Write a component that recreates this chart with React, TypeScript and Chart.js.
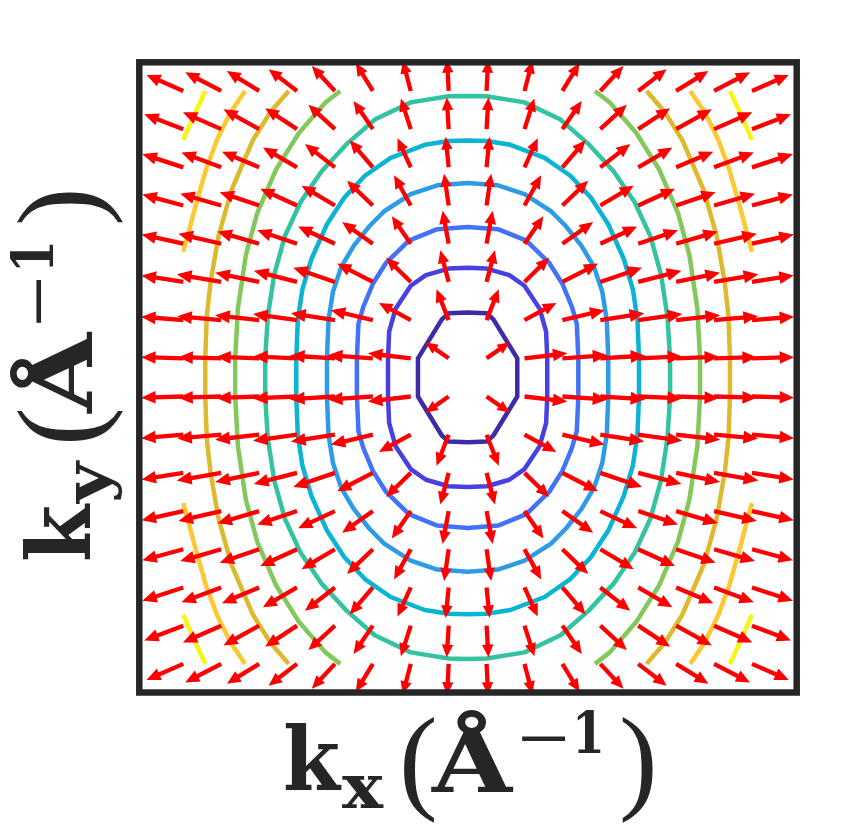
import React, { useEffect, useRef } from "react";
import { Chart, registerables } from "chart.js";

Chart.register(...registerables);

// Grid of the vector field (kx, ky), in grid units
const KX = [-7.5, -6.5, -5.5, -4.5, -3.5, -2.5, -1.5, -0.5, 0.5, 1.5, 2.5, 3.5, 4.5, 5.5, 6.5, 7.5];
const KY = [-7.5, -6.5, -5.5, -4.5, -3.5, -2.5, -1.5, -0.5, 0.5, 1.5, 2.5, 3.5, 4.5, 5.5, 6.5, 7.5];
// first-quadrant abscissae / ordinates (|kx|, |ky|)
const QX = [0.5, 1.5, 2.5, 3.5, 4.5, 5.5, 6.5, 7.5];
const QY = [0.5, 1.5, 2.5, 3.5, 4.5, 5.5, 6.5, 7.5];

// Vector components read in the first quadrant (rows: |ky| = 0.5 .. 7.5, cols: |kx| = 0.5 .. 7.5)
const U_Q = [
  [0.61, 1.13, 1.19, 1.19, 1.16, 1.13, 1.13, 1.11],
  [0.32, 0.84, 1.11, 1.16, 1.16, 1.16, 1.16, 1.11],
  [0.22, 0.65, 0.94, 1.1, 1.14, 1.16, 1.17, 1.1],
  [0.16, 0.5, 0.81, 0.97, 1.05, 1.1, 1.13, 1.1],
  [0.12, 0.44, 0.68, 0.88, 0.97, 1.04, 1.08, 1.08],
  [0.08, 0.35, 0.61, 0.79, 0.9, 0.98, 1.05, 1.08],
  [0.05, 0.26, 0.51, 0.7, 0.84, 0.94, 1.01, 1.03],
  [0.04, 0.21, 0.45, 0.61, 0.75, 0.85, 0.95, 0.97],
];
const V_Q = [
  [0.42, 0.13, 0.08, 0.07, 0.05, 0.04, 0.03, 0.03],
  [0.81, 0.45, 0.26, 0.18, 0.16, 0.13, 0.1, 0.09],
  [0.83, 0.63, 0.48, 0.37, 0.29, 0.24, 0.2, 0.17],
  [0.86, 0.72, 0.57, 0.45, 0.35, 0.32, 0.26, 0.24],
  [0.83, 0.79, 0.65, 0.52, 0.44, 0.35, 0.31, 0.29],
  [0.8, 0.76, 0.71, 0.61, 0.52, 0.41, 0.39, 0.35],
  [0.83, 0.8, 0.74, 0.64, 0.55, 0.52, 0.44, 0.39],
  [0.81, 0.79, 0.73, 0.65, 0.57, 0.52, 0.49, 0.42],
];

// Contour levels (first-quadrant vertices), innermost to outermost
const C1 = [[1.31, 0], [1.31, 0.5], [0.68, 1.52], [0.5, 1.68], [0, 1.7]];
const C2 = [[2.1, 0], [2.1, 0.5], [2.07, 1.2], [1.9, 1.8], [1.5, 2.4], [1.1, 2.68], [0.5, 2.85], [0, 2.87]];
const C3 = [[2.92, 0], [2.92, 0.5], [2.88, 1.4], [2.75, 1.85], [2.5, 2.45], [2.15, 3.0], [1.55, 3.58], [0.8, 3.88], [0, 3.94]];
const C4 = [[3.71, 0], [3.71, 0.5], [3.67, 1.5], [3.55, 2.25], [3.33, 2.9], [3.0, 3.45], [2.6, 3.95], [2.2, 4.35], [1.5, 4.8], [0.8, 5.03], [0, 5.09]];
const C5 = [[4.52, 0], [4.52, 0.5], [4.48, 1.5], [4.36, 2.3], [4.12, 3.1], [3.71, 4.01], [3.25, 4.71], [2.71, 5.28], [2.03, 5.75], [1.13, 6.09], [0.5, 6.19], [0, 6.2]];
const C6 = [[5.34, 0], [5.34, 0.5], [5.27, 1.6], [5.1, 2.7], [4.82, 3.7], [4.4, 4.6], [3.85, 5.4], [3.2, 6.1], [2.45, 6.75], [1.5, 7.2], [0.5, 7.36], [0, 7.37]];
const C7 = [[6.13, 0], [6.13, 0.5], [6.06, 1.8], [5.85, 3.2], [5.55, 4.3], [5.05, 5.45], [4.45, 6.4], [3.75, 7.2], [3.36, 7.5]];
const C8 = [[6.92, 0], [6.92, 0.5], [6.88, 1.6], [6.78, 2.5], [6.57, 3.7], [6.23, 4.9], [5.67, 6.2], [5.2, 6.95], [4.72, 7.5]];
const C9 = [[7.5, 3.29], [7.2, 4.4], [6.9, 5.45], [6.6, 6.25], [6.25, 6.95], [5.87, 7.5]];
const C10 = [[7.5, 6.22], [7.2, 6.9], [6.92, 7.5]];

const CLOSED_LEVELS = [C1, C2, C3, C4, C5, C6];
const SIDE_LEVELS = [C7, C8];
const CORNER_LEVELS = [C9, C10];

const LEVEL_COLORS = [
  "#3d2ca5", "#4841e0", "#4272f5", "#2d9be8", "#0ab4d2",
  "#33c3a0", "#82c85a", "#dcb92d", "#fdc832", "#f6f514",
];

const ARROW_COLOR = "#ff0000";
const FRAME_COLOR = "#262626";

type P = number[];

function closedLoop(q: P[]): P[] {
  const q2 = q.slice(0, -1).reverse().map(([x, y]) => [-x, y]);
  const q3 = q.slice(1).map(([x, y]) => [-x, -y]);
  const q4 = q.slice(0, -1).reverse().map(([x, y]) => [x, -y]);
  return [...q, ...q2, ...q3, ...q4];
}

function sideArcs(q: P[]): P[][] {
  const right = [...q.slice().reverse(), ...q.slice(1).map(([x, y]) => [x, -y])];
  const left = right.map(([x, y]) => [-x, y]);
  return [right, left];
}

function cornerArcs(q: P[]): P[][] {
  return [
    [1, 1],
    [-1, 1],
    [-1, -1],
    [1, -1],
  ].map(([sx, sy]) => q.map(([x, y]) => [sx * x, sy * y]));
}

function buildDatasets() {
  const ds: any[] = [];
  const add = (pts: P[], color: string) =>
    ds.push({
      data: pts.map(([x, y]) => ({ x, y })),
      showLine: true,
      borderColor: color,
      backgroundColor: color,
      borderWidth: 4.5,
      pointRadius: 0,
      pointHoverRadius: 0,
      tension: 0,
      fill: false,
      borderJoinStyle: "round",
      borderCapStyle: "butt",
    });
  CLOSED_LEVELS.forEach((q, i) => add(closedLoop(q), LEVEL_COLORS[i]));
  SIDE_LEVELS.forEach((q, i) => sideArcs(q).forEach((a) => add(a, LEVEL_COLORS[6 + i])));
  CORNER_LEVELS.forEach((q, i) => cornerArcs(q).forEach((a) => add(a, LEVEL_COLORS[8 + i])));
  return ds;
}

const quiverPlugin = {
  id: "quiver",
  afterDatasetsDraw(chart: any) {
    const { ctx, chartArea, scales } = chart;
    const xs = scales.x;
    const ys = scales.y;
    ctx.save();
    ctx.beginPath();
    ctx.rect(chartArea.left, chartArea.top, chartArea.right - chartArea.left, chartArea.bottom - chartArea.top);
    ctx.clip();
    ctx.strokeStyle = ARROW_COLOR;
    ctx.fillStyle = ARROW_COLOR;
    ctx.lineWidth = 4.3;
    ctx.lineCap = "butt";
    ctx.lineJoin = "miter";
    for (const ky of KY) {
      for (const kx of KX) {
        const i = QX.indexOf(Math.abs(kx));
        const j = QY.indexOf(Math.abs(ky));
        const u = Math.sign(kx) * U_Q[j][i];
        const v = Math.sign(ky) * V_Q[j][i];
        const x0 = xs.getPixelForValue(kx);
        const y0 = ys.getPixelForValue(ky);
        const x1 = xs.getPixelForValue(kx + u);
        const y1 = ys.getPixelForValue(ky + v);
        const dx = x1 - x0;
        const dy = y1 - y0;
        const L = Math.hypot(dx, dy);
        if (L < 1) continue;
        const ux = dx / L;
        const uy = dy / L;
        const h = 0.15 * L + 8;
        const hw = 0.06 * L + 3.8;
        ctx.beginPath();
        ctx.moveTo(x0, y0);
        ctx.lineTo(x1 - ux * h * 0.7, y1 - uy * h * 0.7);
        ctx.stroke();
        const bx = x1 - ux * h;
        const by = y1 - uy * h;
        ctx.beginPath();
        ctx.moveTo(x1, y1);
        ctx.lineTo(bx - uy * hw, by + ux * hw);
        ctx.lineTo(bx + uy * hw, by - ux * hw);
        ctx.closePath();
        ctx.fill();
      }
    }
    ctx.restore();
  },
  afterDraw(chart: any) {
    const { ctx, chartArea } = chart;
    ctx.save();
    ctx.strokeStyle = FRAME_COLOR;
    ctx.lineWidth = 6.5;
    ctx.strokeRect(chartArea.left, chartArea.top, chartArea.right - chartArea.left, chartArea.bottom - chartArea.top);
    ctx.restore();
  },
};

const LABEL_MAIN = "k";
const LABEL_UNIT = "Å";
const LABEL_EXP = "1";
const LABEL_MINUS = "−";

function AxisLabel({ sub, transform }: { sub: string; transform: string }) {
  const bold = { fontFamily: "'DejaVu Serif'", fontWeight: 700 as any, fill: FRAME_COLOR };
  const paren = { fontFamily: "'Liberation Serif'", fontWeight: 400 as any, fill: FRAME_COLOR, fontSize: 116 };
  return (
    <g transform={transform}>
      <text x={-2} y={0} textLength={57} lengthAdjust="spacingAndGlyphs" style={{ ...bold, fontSize: 88 }}>{LABEL_MAIN}</text>
      <text x={57} y={18} textLength={41} lengthAdjust="spacingAndGlyphs" style={{ ...bold, fontSize: 62 }}>{sub}</text>
      <text x={114} y={8} style={paren}>(</text>
      <text x={147} y={2} textLength={80} lengthAdjust="spacingAndGlyphs" style={{ ...bold, fontSize: 88 }}>{LABEL_UNIT}</text>
      <text x={0} y={0} transform="translate(230,-33) scale(1.18,1)" style={{ fontFamily: "'DejaVu Serif'", fontWeight: 400 as any, fill: FRAME_COLOR, fontSize: 58 }}>{LABEL_MINUS}</text>
      <text x={287} y={-37} textLength={33} lengthAdjust="spacingAndGlyphs" style={{ ...bold, fontSize: 57 }}>{LABEL_EXP}</text>
      <text x={334} y={8} style={paren}>)</text>
    </g>
  );
}

export default function App() {
  const canvasRef = useRef<HTMLCanvasElement | null>(null);

  useEffect(() => {
    if (!canvasRef.current) return;
    const chart = new Chart(canvasRef.current, {
      type: "scatter",
      data: { datasets: buildDatasets() },
      options: {
        animation: false,
        responsive: true,
        maintainAspectRatio: false,
        devicePixelRatio: 1,
        events: [],
        layout: { padding: { left: 139.3, top: 62.3, right: 58.3, bottom: 135.5 } },
        plugins: { legend: { display: false }, tooltip: { enabled: false } },
        scales: {
          x: { type: "linear", min: -8.66, max: 8.68, display: false },
          y: { type: "linear", min: -8.25, max: 8.25, display: false },
        },
      },
      plugins: [quiverPlugin],
    } as any);
    return () => chart.destroy();
  }, []);

  return (
    <div style={{ position: "absolute", left: 0, top: 0, width: 855, height: 828, background: "#fff" }}>
      <canvas ref={canvasRef} style={{ position: "absolute", left: 0, top: 0 }} />
      <svg width={855} height={828} style={{ position: "absolute", left: 0, top: 0, pointerEvents: "none" }}>
        <AxisLabel sub="x" transform="translate(285,790)" />
        <AxisLabel sub="y" transform="translate(90,560) rotate(-90)" />
      </svg>
    </div>
  );
}
